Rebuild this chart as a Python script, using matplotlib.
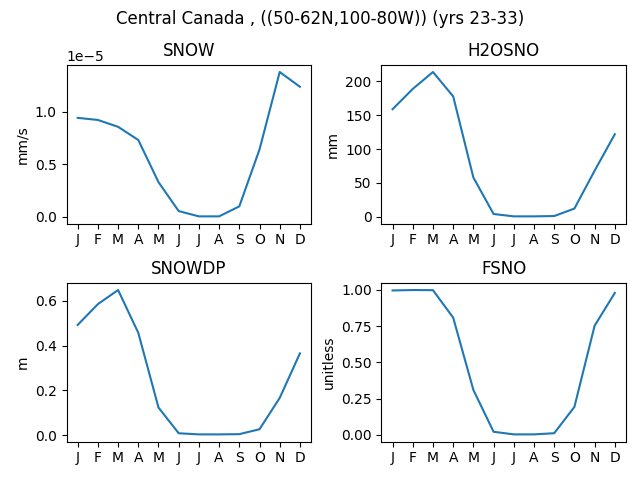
import matplotlib
matplotlib.use("Agg")
import matplotlib.pyplot as plt

months = ["J", "F", "M", "A", "M", "J", "J", "A", "S", "O", "N", "D"]
snow = [0.94e-5, 0.92e-5, 0.855e-5, 0.73e-5, 0.33e-5, 0.055e-5, 0.005e-5, 0.005e-5, 0.10e-5, 0.64e-5, 1.375e-5, 1.235e-5]
h2osno = [159, 189, 214, 178, 58, 4, 0.5, 0.5, 1, 12, 68, 122]
snowdp = [0.492, 0.585, 0.648, 0.457, 0.123, 0.008, 0.003, 0.003, 0.004, 0.026, 0.166, 0.365]
fsno = [0.995, 0.998, 0.997, 0.808, 0.31, 0.022, 0.004, 0.004, 0.012, 0.193, 0.752, 0.978]

titles = ["SNOW", "H2OSNO", "SNOWDP", "FSNO"]
units = ["mm/s", "mm", "m", "unitless"]
data = [snow, h2osno, snowdp, fsno]

fig, axes = plt.subplots(2, 2, figsize=(6.4, 4.8), dpi=100)
x = list(range(len(months)))
for ax, t, u, d in zip(axes.flat, titles, units, data):
    ax.plot(x, d)
    ax.set_title(t)
    ax.set_ylabel(u)
    ax.set_xticks(x)
    ax.set_xticklabels(months)
fig.suptitle("Central Canada , ((50-62N,100-80W)) (yrs 23-33)")
fig.subplots_adjust(left=0.104, right=0.978, top=0.865, bottom=0.080, wspace=0.288, hspace=0.373)
fig.savefig("out.png")
